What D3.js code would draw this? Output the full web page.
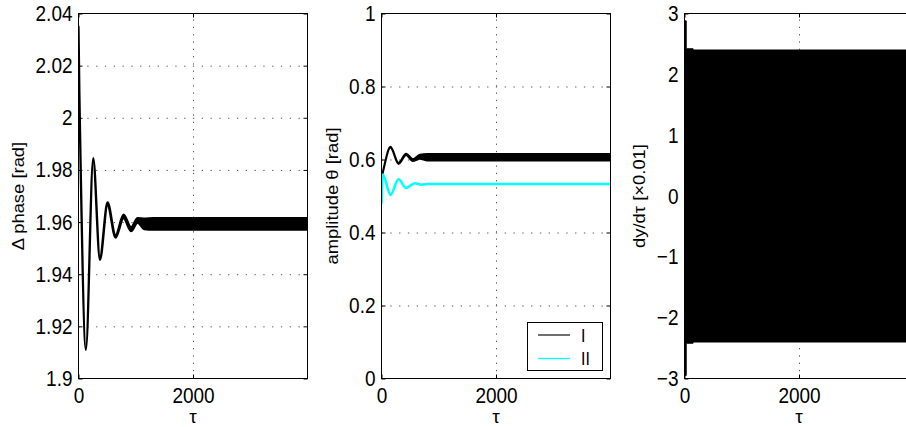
<!DOCTYPE html>
<html>
<head>
<meta charset="utf-8">
<script src="https://cdn.jsdelivr.net/npm/d3@7"></script>
<style>
  body { margin: 0; background: #fff; }
  svg { display: block; }
  text { font-family: "Liberation Sans", Arial, Helvetica, sans-serif; fill: #000; }
</style>
</head>
<body>
<svg id="chart" width="906" height="427"></svg>
<script>
// ---- shared time axis ----
const tauMax = 3999;
const tauTicks = [0, 2000];
const tauTickLabels = ["0", "2000"];

// ---- panel 1: phase difference (envelope of the fast oscillation) ----
const phaseTicks = [1.9, 1.92, 1.94, 1.96, 1.98, 2.0, 2.02, 2.04];
const phaseTickLabels = ["1.9", "1.92", "1.94", "1.96", "1.98", "2", "2.02", "2.04"];
const phaseTau = [0, 15, 30, 129, 257, 374, 507, 647, 787, 917, 1032, 1150, 1300, 3999];
const phaseLo  = [2.034, 2.009, 1.990, 1.911, 1.9835, 1.9455, 1.9665, 1.9540, 1.9615, 1.9565, 1.9598, 1.9573, 1.9571, 1.9571];
const phaseHi  = [2.035, 2.010, 1.991, 1.9115, 1.9845, 1.9465, 1.9675, 1.9550, 1.9628, 1.9580, 1.9615, 1.9613, 1.9615, 1.9615];

// ---- panel 2: amplitudes ----
const ampTicks = [0, 0.2, 0.4, 0.6, 0.8, 1];
const ampTickLabels = ["0", "0.2", "0.4", "0.6", "0.8", "1"];
const ampTauI = [0, 23, 157, 297, 430, 548, 670, 800, 3999];
const ampLoI  = [0.549, 0.564, 0.633, 0.588, 0.612, 0.596, 0.602, 0.597, 0.597];
const ampHiI  = [0.551, 0.566, 0.635, 0.591, 0.616, 0.601, 0.613, 0.615, 0.615];
const ampTauII = [0, 23, 157, 297, 430, 583, 700, 820, 3999];
const ampII    = [0.479, 0.559, 0.503, 0.546, 0.522, 0.535, 0.531, 0.533, 0.533];
const seriesNames = ["I", "II"];
const seriesColors = ["#000000", "#00ffff"];

// ---- panel 3: velocity envelope ----
const rateTicks = [-3, -2, -1, 0, 1, 2, 3];
const rateTickLabels = ["\u22123", "\u22122", "\u22121", "0", "1", "2", "3"];
const rateTau = [0, 30, 150, 3999];
const rateLo  = [-2.95, -2.42, -2.40, -2.40];
const rateHi  = [2.88, 2.42, 2.40, 2.40];

// ---- layout ----
const svg = d3.select("#chart");
const plotTop = 13.5, plotH = 365, plotW = 229;
const lefts = [78.5, 381.5, 684.5];
const SY = 1.15;          // vertical stretch applied to tick and axis text
const tickFont = 19, labelFont = 16;

function makePanel(i, yDomain, yTicks, yLabels, ylabel, ylabelX) {
  const left = lefts[i];
  const x = d3.scaleLinear().domain([0, tauMax]).range([left, left + plotW]);
  const y = d3.scaleLinear().domain(yDomain).range([plotTop + plotH, plotTop]);
  const g = svg.append("g");

  // dotted grid at interior ticks
  const gridY = yTicks.filter(v => v !== yDomain[0] && v !== yDomain[1]);
  g.append("g").attr("class", "grid").attr("transform", `translate(${left},0)`)
    .call(d3.axisLeft(y).tickValues(gridY).tickSize(-plotW).tickFormat(""))
    .call(a => a.select(".domain").remove())
    .selectAll("line").attr("stroke", "#555").attr("stroke-dasharray", "1.3,7.5");
  g.append("g").attr("class", "grid").attr("transform", `translate(0,${plotTop + plotH})`)
    .call(d3.axisBottom(x).tickValues(tauTicks.filter(v => v > 0)).tickSize(-plotH).tickFormat(""))
    .call(a => a.select(".domain").remove())
    .selectAll("line").attr("stroke", "#555").attr("stroke-dasharray", "1.3,6");

  const clipId = "clip" + i;
  svg.append("clipPath").attr("id", clipId).append("rect")
    .attr("x", left).attr("y", plotTop).attr("width", plotW).attr("height", plotH);
  const data = g.append("g").attr("clip-path", `url(#${clipId})`);

  // box
  g.append("rect").attr("x", left).attr("y", plotTop).attr("width", plotW).attr("height", plotH)
    .attr("fill", "none").attr("stroke", "#000").attr("stroke-width", 1);

  // ticks (inward, mirrored on all sides)
  const yAxis = g.append("g").attr("transform", `translate(${left},0)`)
    .call(d3.axisLeft(y).tickValues(yTicks).tickFormat((d, k) => yLabels[k])
      .tickSizeInner(-4).tickSizeOuter(0).tickPadding(6));
  const yAxisR = g.append("g").attr("transform", `translate(${left + plotW},0)`)
    .call(d3.axisRight(y).tickValues(yTicks).tickFormat("").tickSizeInner(-4).tickSizeOuter(0));
  const xAxis = g.append("g").attr("transform", `translate(0,${plotTop + plotH})`)
    .call(d3.axisBottom(x).tickValues(tauTicks).tickFormat((d, k) => tauTickLabels[k])
      .tickSizeInner(-4).tickSizeOuter(0).tickPadding(8));
  const xAxisT = g.append("g").attr("transform", `translate(0,${plotTop})`)
    .call(d3.axisTop(x).tickValues(tauTicks).tickFormat("").tickSizeInner(-4).tickSizeOuter(0));

  [yAxis, yAxisR, xAxis, xAxisT].forEach(a => {
    a.select(".domain").remove();
    a.selectAll(".tick line").attr("stroke", "#000");
  });
  [yAxis, xAxis].forEach(a => a.selectAll("text")
    .attr("font-size", tickFont).attr("font-family", null).attr("fill", "#000")
    .attr("transform", `scale(1,${SY})`));

  // axis labels
  const cx = left + plotW / 2, cy = plotTop + plotH / 2;
  g.append("text").attr("x", cx).attr("y", 422.5).attr("text-anchor", "middle")
    .attr("font-size", 19).text("\u03c4");
  g.append("g").attr("transform", `translate(${ylabelX},${cy}) scale(1,${SY}) rotate(-90)`)
    .append("text").attr("text-anchor", "middle").attr("font-size", labelFont).text(ylabel);

  return { x, y, data, g };
}

// panel 1
const p1 = makePanel(0, [1.9, 2.04], phaseTicks, phaseTickLabels, "\u0394 phase [rad]", 24);
const phaseRows = phaseTau.map((t, k) => ({ t, lo: phaseLo[k], hi: phaseHi[k] }));
p1.data.append("path").datum(phaseRows)
  .attr("d", d3.area().x(d => p1.x(d.t)).y0(d => p1.y(d.lo)).y1(d => p1.y(d.hi)).curve(d3.curveMonotoneX))
  .attr("fill", "#000").attr("stroke", "#000").attr("stroke-width", 2.3).attr("stroke-linejoin", "round");

// panel 2
const p2 = makePanel(1, [0, 1], ampTicks, ampTickLabels, "amplitude \u03b8 [rad]", 338);
const ampRowsI = ampTauI.map((t, k) => ({ t, lo: ampLoI[k], hi: ampHiI[k] }));
p2.data.append("path").datum(ampRowsI)
  .attr("d", d3.area().x(d => p2.x(d.t)).y0(d => p2.y(d.lo)).y1(d => p2.y(d.hi)).curve(d3.curveMonotoneX))
  .attr("fill", seriesColors[0]).attr("stroke", seriesColors[0]).attr("stroke-width", 2)
  .attr("stroke-linejoin", "round");
const ampRowsII = ampTauII.map((t, k) => ({ t, v: ampII[k] }));
p2.data.append("path").datum(ampRowsII)
  .attr("d", d3.line().x(d => p2.x(d.t)).y(d => p2.y(d.v)).curve(d3.curveMonotoneX))
  .attr("fill", "none").attr("stroke", seriesColors[1]).attr("stroke-width", 2.6);

// legend
const leg = p2.g.append("g");
leg.append("rect").attr("x", 527.5).attr("y", 322.5).attr("width", 75).attr("height", 48)
  .attr("fill", "#fff").attr("stroke", "#000").attr("stroke-width", 1);
seriesNames.forEach((name, k) => {
  const ly = 335 + k * 23.5;
  leg.append("line").attr("x1", 538).attr("x2", 570).attr("y1", ly).attr("y2", ly)
    .attr("stroke", seriesColors[k] === "#000000" ? "#222" : seriesColors[k]).attr("stroke-width", 1.3);
  leg.append("g").attr("transform", `translate(581,${ly + 6.5}) scale(1,${SY})`)
    .append("text").attr("font-size", labelFont).text(name);
});

// panel 3
const p3 = makePanel(2, [-3, 3], rateTicks, rateTickLabels, "dy/d\u03c4 [\u00d70.01]", 645);
const rateRows = rateTau.map((t, k) => ({ t, lo: rateLo[k], hi: rateHi[k] }));
p3.data.append("path").datum(rateRows)
  .attr("d", d3.area().x(d => p3.x(d.t)).y0(d => p3.y(d.lo)).y1(d => p3.y(d.hi)).curve(d3.curveStepAfter))
  .attr("fill", "#000").attr("stroke", "#000").attr("stroke-width", 1);
</script>
</body>
</html>
